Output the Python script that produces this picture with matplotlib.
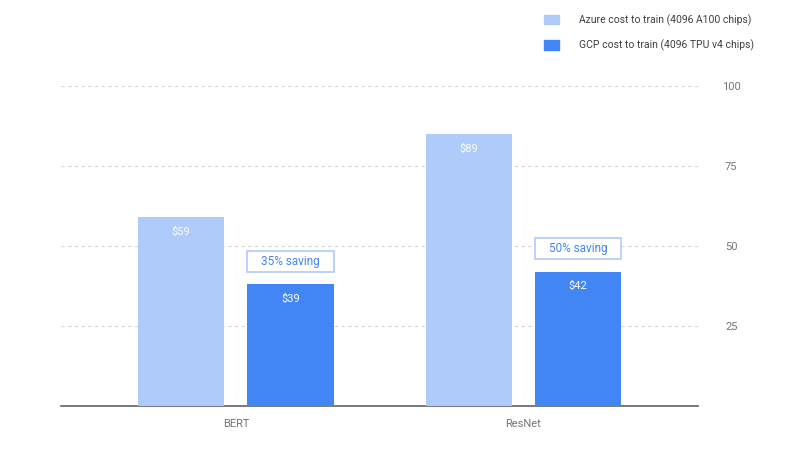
import matplotlib
matplotlib.use('Agg')
import matplotlib.pyplot as plt
from matplotlib.patches import Patch, Rectangle
import numpy as np

plt.rcParams['font.family'] = ['Roboto', 'DejaVu Sans']

models = ['BERT', 'ResNet']
azure_cost = [59, 85]      # drawn bar heights
gcp_cost = [38, 42]
azure_labels = ['$59', '$89']
gcp_labels = ['$39', '$42']
savings = ['35% saving', '50% saving']
y_ticks = [25, 50, 75, 100]

light = '#aecbfa'
blue = '#4285f4'
grey = '#757575'

fig = plt.figure(figsize=(8, 4.61), dpi=100)
ax = fig.add_axes([0.076, 0.1193, 0.7965, 0.694])

x = np.arange(len(models))
w = 0.3
off = 0.19
ax.bar(x - off, azure_cost, w, color=light, zorder=3)
ax.bar(x + off, gcp_cost, w, color=blue, zorder=3)

for i in range(len(models)):
    ax.text(x[i] - off, azure_cost[i] - 4.6, azure_labels[i], color='white',
            ha='center', va='center', fontsize=8, zorder=4)
    ax.text(x[i] + off, gcp_cost[i] - 4.6, gcp_labels[i], color='white',
            ha='center', va='center', fontsize=8, zorder=4)
    # saving tag sits just above the gcp bar, same width
    ax.add_patch(Rectangle((x[i] + off - w / 2, gcp_cost[i] + 4), w, 6.6,
                           fc='white', ec=light, lw=1.2, zorder=4))
    ax.text(x[i] + off, gcp_cost[i] + 7.3, savings[i], color=blue,
            ha='center', va='center', fontsize=8.5, zorder=5)

ax.set_xlim(-0.609, 1.607)
ax.set_ylim(0, 100)
ax.set_xticks(x)
ax.set_xticklabels(models, color=grey, fontsize=8)
ax.tick_params(axis='x', length=0, pad=9.5)

ax.yaxis.tick_right()
ax.set_yticks(y_ticks)
ax.set_yticklabels([str(t) for t in y_ticks], color=grey, fontsize=8)
ax.tick_params(axis='y', length=0, pad=24)
for lbl in ax.get_yticklabels():
    lbl.set_horizontalalignment('center')
ax.grid(axis='y', ls=(0, (3, 3)), color='#d5d5d5', lw=0.8, zorder=0)

for s in ['top', 'left', 'right']:
    ax.spines[s].set_visible(False)
ax.spines['bottom'].set_color('#5f6368')
ax.spines['bottom'].set_linewidth(1.2)

handles = [Patch(color=light, label='Azure cost to train (4096 A100 chips)'),
           Patch(color=blue, label='GCP cost to train (4096 TPU v4 chips)')]
fig.legend(handles=handles, loc='upper left', bbox_to_anchor=(0.668, 0.99),
           frameon=False, fontsize=7.5, labelcolor='#3c4043',
           handlelength=1.45, handleheight=1.0, handletextpad=1.9, labelspacing=1.35)

fig.savefig('out.png', dpi=100)
